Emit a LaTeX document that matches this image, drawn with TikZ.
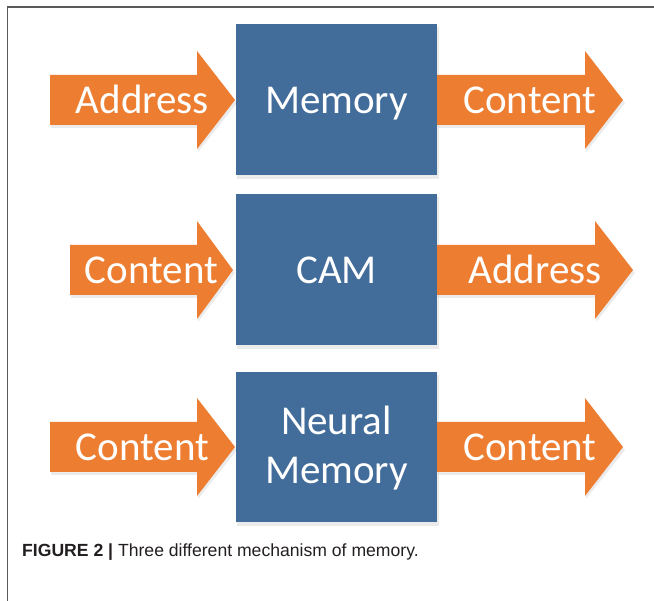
\documentclass[tikz,border=0pt]{standalone}
\usepackage{fontspec}
\setmainfont{Carlito}
\newfontfamily\capfont{Liberation Sans}
\definecolor{arrOrange}{HTML}{ED7D31}
\definecolor{boxBlue}{RGB}{66,108,153}
\definecolor{frameGray}{RGB}{90,90,90}
\definecolor{capText}{RGB}{35,31,32}
\tikzset{
  memBox/.style={fill=boxBlue, draw=none},
  memShadow/.style={fill=black, opacity=0.08, draw=none},
  arrShape/.style={fill=arrOrange, draw=none},
  bigText/.style={text=white, font=\fontsize{41}{44}\selectfont, inner sep=0pt, align=center, anchor=base},
}
% \barrow{name}{xstart}{xheadbase}{xtip}{ycenter}{text}
\newcommand{\barrow}[6]{%
  \fill[memShadow] (#2+1,#5-25+3) -- (#3+1,#5-25+3) -- (#3+1,#5-49+3) -- (#4+2,#5+3) -- (#3+1,#5+49+3) -- (#3+1,#5+25+3) -- (#2+1,#5+25+3) -- cycle;
  \fill[arrShape] (#2,#5-25) -- (#3,#5-25) -- (#3,#5-49) -- (#4,#5) -- (#3,#5+49) -- (#3,#5+25) -- (#2,#5+25) -- cycle;
  \node[bigText] (#1) at ({(#2+#4)/2},#5+13.5) {#6};
}
\begin{document}
\begin{tikzpicture}[x=1pt,y=-1pt]
\useasboundingbox (0,0) rectangle (654,601);
\fill[white] (0,0) rectangle (654,601);
% frame
\draw[frameGray, line width=1.4pt] (7.5,601) -- (7.5,7) -- (654,7);
% boxes
\foreach \yt/\yb in {24/175, 194/345, 372/522} {
  \fill[memShadow] (237,\yt+3) rectangle (439,\yb+4);
  \fill[memBox] (236,\yt) rectangle (437,\yb);
}
\node[bigText] (mem) at (336.5,113.5) {Memory};
\node[bigText] (cam) at (336.5,283.5) {CAM};
\node[bigText, anchor=center, font=\fontsize{41}{49}\selectfont] (neural) at (336.5,448) {Neural\\Memory};
% arrows
\barrow{in1}{50}{197}{235}{100}{Address}
\barrow{out1}{437}{585}{623}{100}{Content}
\barrow{in2}{70}{197}{233}{270}{Content}
\barrow{out2}{437}{595}{633}{270}{Address}
\barrow{in3}{50}{197}{235}{447}{Content}
\barrow{out3}{437}{585}{623}{447}{Content}
% caption
\node[anchor=base west, inner sep=0pt, text=capText, font=\capfont\fontsize{17.6}{20}\selectfont] (cap) at (22,557)
  {\textbf{FIGURE 2 |} Three different mechanism of memory.};
\end{tikzpicture}
\end{document}
